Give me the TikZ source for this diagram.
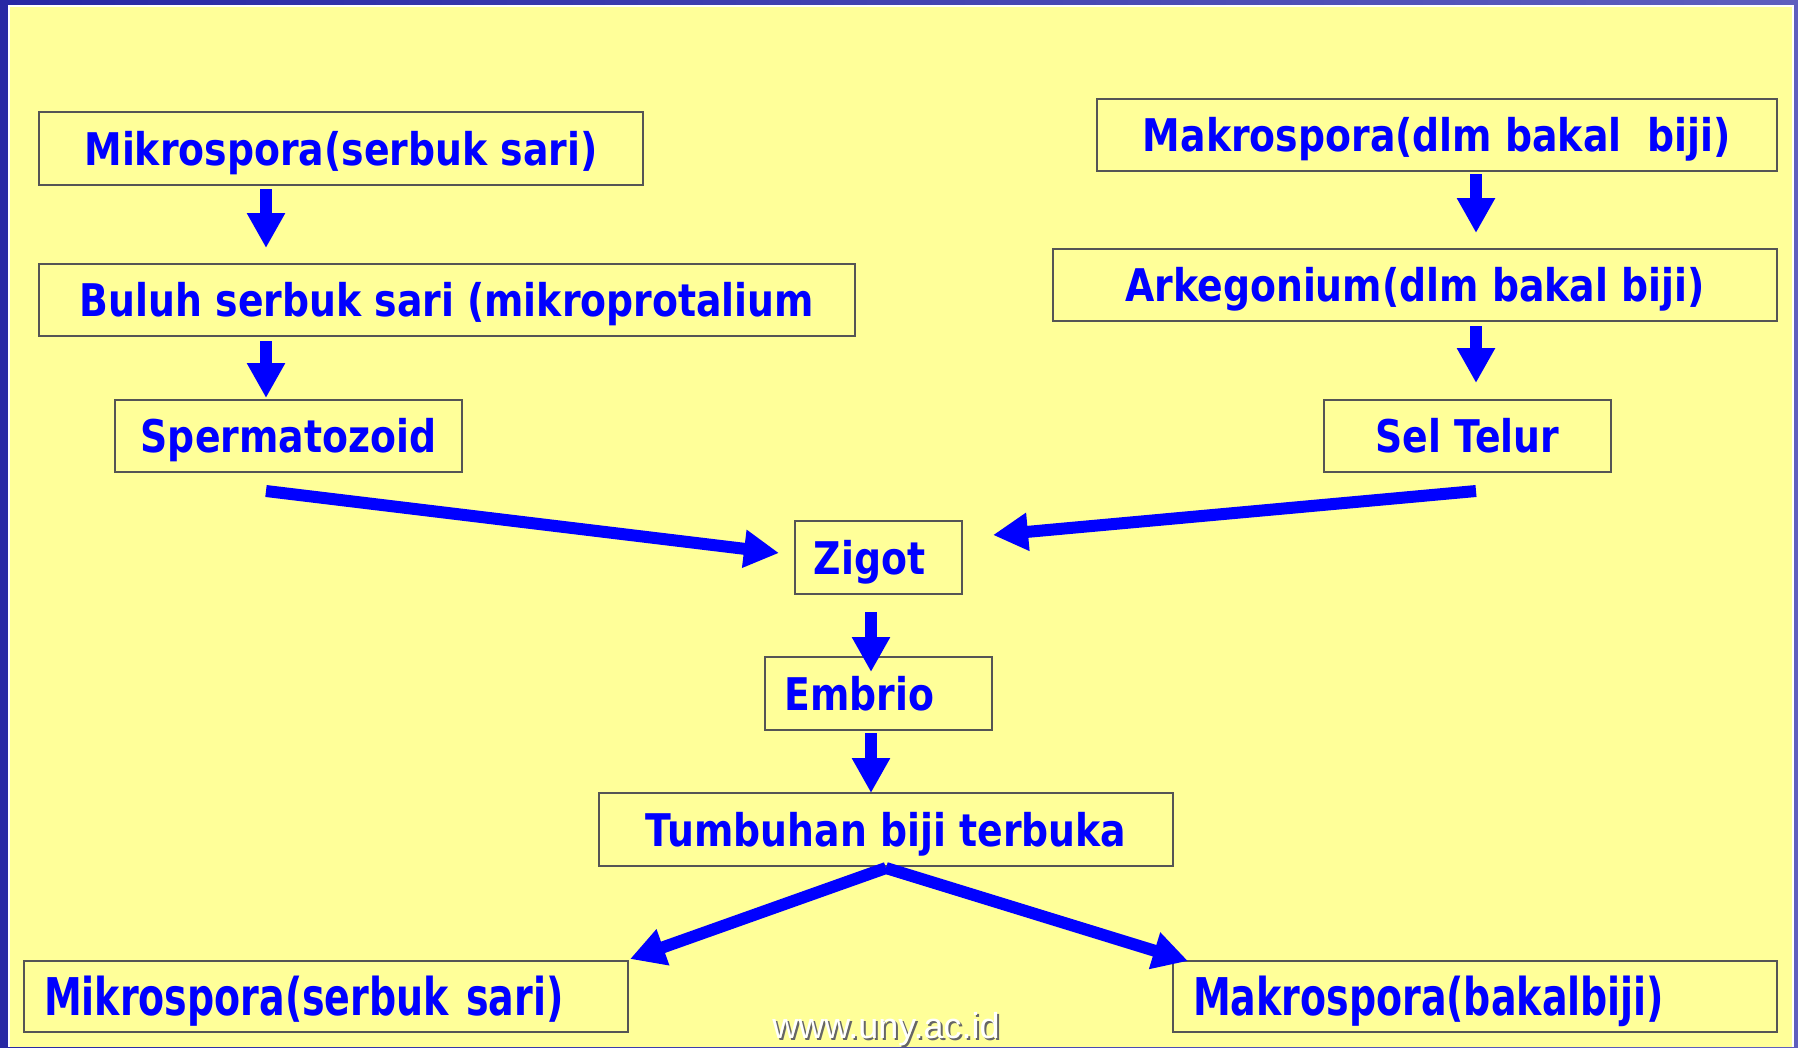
\documentclass[tikz,border=0pt]{standalone}
\usepackage{fontspec}
\usetikzlibrary{arrows.meta}
\newfontfamily\boxfont{DejaVu Sans}[FakeStretch=0.84]
\newfontfamily\lowfont{DejaVu Sans}[FakeStretch=0.73]
\newfontfamily\wmfont{Liberation Sans}
\definecolor{bgyellow}{HTML}{FFFF99}
\definecolor{boxgray}{HTML}{555555}
\definecolor{framedark}{RGB}{40,40,165}
\definecolor{framelight}{RGB}{95,95,190}
\begin{document}
\begin{tikzpicture}[x=1pt,y=-1pt,
  box/.style={draw=boxgray, line width=2.5pt, fill=bgyellow, inner sep=0pt,
    text height=33pt, text depth=0pt,
    text=blue, font=\boxfont\bfseries\fontsize{45}{54}\selectfont},
  lowbox/.style={box, font=\lowfont\bfseries\fontsize{52}{60}\selectfont,
    text height=38pt, text depth=0pt,
    text width=564pt, align=left, inner xsep=20pt, minimum width=604pt, minimum height=71pt},
  ar/.style={draw=blue, line width=12pt, -{Triangle[width=36pt,length=35pt]}}]
% background
\shade[left color=framedark, right color=framelight] (0,0) rectangle (1798,1047);
\fill[white] (8,5) rectangle (1794,1047);
\fill[bgyellow] (10,7) rectangle (1792,1047);
\useasboundingbox (0,0) rectangle (1798,1047);
% left column
\node[box, minimum width=604pt, minimum height=73pt] (m1) at (341,148.5) {Mikrospora(serbuk sari)};
\node[box, minimum width=816pt, minimum height=72pt] (m2) at (447,300) {Buluh serbuk sari (mikroprotalium};
\node[box, minimum width=347pt, minimum height=72pt] (m3) at (288.5,436) {Spermatozoid};
% right column
\node[box, minimum width=680pt, minimum height=72pt] (r1) at (1437,135) {Makrospora(dlm bakal\ \ biji)};
\node[box, minimum width=724pt, minimum height=72pt] (r2) at (1415,285) {Arkegonium(dlm bakal biji)};
\node[box, minimum width=287pt, minimum height=72pt] (r3) at (1467.5,436) {Sel Telur};
% centre
\node[box, minimum width=167pt, minimum height=73pt] (z) at (878.5,557.5) {Zigot\kern18pt};
\node[box, minimum width=227pt, minimum height=73pt] (e) at (878.5,693.5) {Embrio\kern38pt};
\node[box, minimum width=574pt, minimum height=73pt] (t) at (886,829.5) {Tumbuhan biji terbuka};
% bottom
\node[lowbox] (bl) at (326,996.5) {Mikrospora(serbuk sari)};
\node[lowbox] (br) at (1475,996.5) {Makrospora(bakalbiji)};
% arrow coordinates
\coordinate (a1s) at (266,189);  \coordinate (a1e) at (266,248);
\coordinate (a2s) at (266,341);  \coordinate (a2e) at (266,398);
\coordinate (a3s) at (1476,174); \coordinate (a3e) at (1476,233);
\coordinate (a4s) at (1476,326); \coordinate (a4e) at (1476,383);
\coordinate (a5s) at (871,612);  \coordinate (a5e) at (871,672);
\coordinate (a6s) at (871,733);  \coordinate (a6e) at (871,793);
\coordinate (dls) at (266,491);  \coordinate (dle) at (779,553);
\coordinate (drs) at (1476,491); \coordinate (dre) at (993,535);
\coordinate (apex) at (886,868);
\coordinate (ble) at (630,959);  \coordinate (bre) at (1188,961);
% arrows
\draw[ar] (a1s) -- (a1e);
\draw[ar] (a2s) -- (a2e);
\draw[ar] (a3s) -- (a3e);
\draw[ar] (a4s) -- (a4e);
\draw[ar] (a5s) -- (a5e);
\draw[ar] (a6s) -- (a6e);
\draw[ar] (dls) -- (dle);
\draw[ar] (drs) -- (dre);
\draw[ar] (apex) -- (ble);
\draw[ar] (apex) -- (bre);
% watermark
\node[anchor=base, text=black!60, font=\wmfont\fontsize{36}{40}\selectfont, inner sep=0pt] (wms) at (888,1040) {www.uny.ac.id};
\node[anchor=base, text=white, font=\wmfont\fontsize{36}{40}\selectfont, inner sep=0pt] (wm) at (886,1038) {www.uny.ac.id};
\end{tikzpicture}
\end{document}
